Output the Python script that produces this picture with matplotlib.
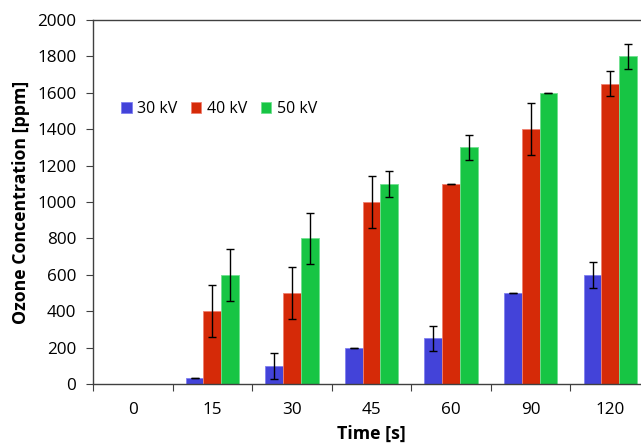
import numpy as np
import matplotlib
matplotlib.use("Agg")
import matplotlib.pyplot as plt

plt.rcParams['font.family'] = ['Open Sans', 'DejaVu Sans']

# data
times = ["0", "15", "30", "45", "60", "90", "120"]
series = ["30 kV", "40 kV", "50 kV"]
kv30 = [0, 35, 100, 200, 250, 500, 600]
kv40 = [0, 400, 500, 1000, 1100, 1400, 1650]
kv50 = [0, 600, 800, 1100, 1300, 1600, 1800]
err30 = [0, 0, 70, 0, 70, 0, 70]
err40 = [0, 142, 142, 142, 0, 142, 70]
err50 = [0, 142, 142, 70, 70, 0, 70]

colors = ["#4343D9", "#D52A08", "#17C544"]
edges = ["#8080F0", "#F08070", "#70E090"]

fig = plt.figure(figsize=(6.41, 4.48), dpi=100)
ax = fig.add_axes([0.1451, 0.1429, 0.8690, 0.8125])

x = np.arange(len(times))
w = 0.223
for i, (vals, errs) in enumerate(zip([kv30, kv40, kv50], [err30, err40, err50])):
    pos = x + (i - 1) * w
    ax.bar(pos, vals, width=w, color=colors[i], edgecolor=edges[i],
           linewidth=0.6, label=series[i], zorder=2)
    idx = [j for j in range(len(times)) if vals[j] > 0]
    ax.errorbar(pos[idx], np.array(vals)[idx], yerr=np.array(errs)[idx],
                fmt="none", ecolor="black", elinewidth=1.0, capsize=3,
                capthick=1.0, zorder=3)

ax.set_xlim(-0.5, len(times) - 0.5)
ax.set_ylim(0, 2000)
ax.set_yticks(np.arange(0, 2001, 200))

ax.set_xticks(np.arange(len(times) + 1) - 0.5)
ax.set_xticklabels([])
ax.set_xticks(x, minor=True)
ax.set_xticklabels(times, minor=True)
ax.tick_params(axis="x", which="major", length=5, direction="out", color="#404040")
ax.tick_params(axis="x", which="minor", length=0, pad=13, labelsize=12.3)
ax.tick_params(axis="y", length=5, direction="out", color="#404040", pad=7, labelsize=12.3)

for s in ["top", "left", "bottom", "right"]:
    ax.spines[s].set_color("#404040")
    ax.spines[s].set_linewidth(1.0)

ax.set_xlabel("Time [s]", fontsize=12.8, fontweight="bold", labelpad=5)
ax.set_ylabel("Ozone Concentration [ppm]", fontsize=12.8, fontweight="bold", labelpad=5)

ax.legend(loc="center left", bbox_to_anchor=(0.039, 0.755), ncol=3, frameon=False,
          fontsize=11.5, handlelength=0.65, handleheight=0.65, handletextpad=0.35,
          columnspacing=0.85, borderaxespad=0)

fig.savefig("out.png", dpi=100)
